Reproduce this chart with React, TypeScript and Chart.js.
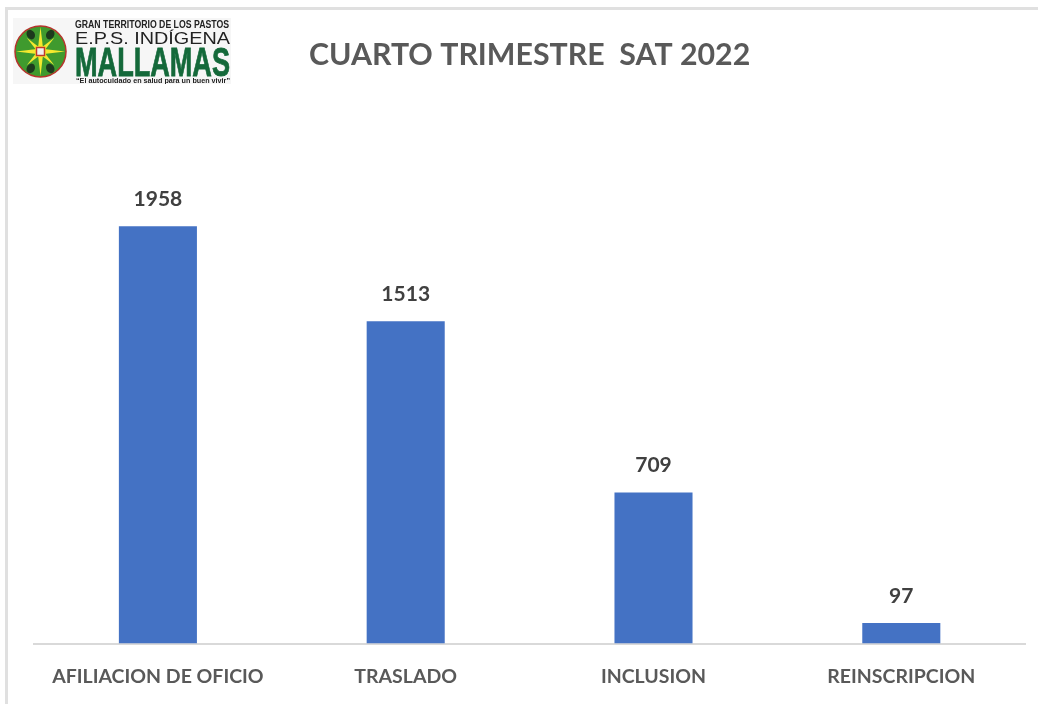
import React, { useEffect, useRef } from "react";
import { Chart, registerables } from "chart.js";

Chart.register(...registerables);

const categories = ["AFILIACION DE OFICIO", "TRASLADO", "INCLUSION", "REINSCRIPCION"];
const values = [1958, 1513, 709, 97];
const titleText = "CUARTO TRIMESTRE  SAT 2022";

const valueLabels = {
  id: "valueLabels",
  afterDatasetsDraw(chart: any) {
    const { ctx } = chart;
    const meta = chart.getDatasetMeta(0);
    ctx.save();
    ctx.font = "bold 21px Lato";
    ctx.fillStyle = "#404040";
    ctx.textAlign = "center";
    ctx.textBaseline = "middle";
    meta.data.forEach((bar: any, i: number) => {
      ctx.fillText(String(values[i]), bar.x, bar.y - 27);
    });
    ctx.restore();
  },
};

function Logo() {
  const rays = [0, 45, 90, 135, 180, 225, 270, 315];
  const figures = [30, 150, 210, 330];
  return (
    <svg
      width={218}
      height={66}
      viewBox="0 0 218 66"
      style={{ position: "absolute", left: 13, top: 18, filter: "blur(0.35px)" }}
    >
      <rect width={218} height={66} fill="#f6f6f6" />
      <circle cx={27.5} cy={33.5} r={25.5} fill="#3f9a2e" stroke="#b5342c" strokeWidth={1.5} />
      {figures.map((a) => (
        <ellipse
          key={a}
          cx={27.5}
          cy={14}
          rx={4}
          ry={5}
          fill="#1d3a1d"
          transform={`rotate(${a} 27.5 33.5)`}
        />
      ))}
      {rays.map((a) => (
        <polygon
          key={a}
          points={a % 90 === 0 ? "27.5,9 30,30 25,30" : "27.5,14 29.5,30 25.5,30"}
          fill="#f4e92e"
          transform={`rotate(${a} 27.5 33.5)`}
        />
      ))}
      <circle cx={27.5} cy={33.5} r={6} fill="#f4e92e" />
      <rect x={23.5} y={29.5} width={8} height={8} fill="#eee" stroke="#c0392b" strokeWidth={1.5} />
      <text x={62} y={10} fontFamily="'Liberation Sans Narrow', 'Liberation Sans'" fontWeight="bold" fontSize={10} fill="#222" textLength={154} lengthAdjust="spacingAndGlyphs">
        GRAN TERRITORIO DE LOS PASTOS
      </text>
      <text x={62} y={26} fontFamily="'Liberation Sans'" fontSize={16.5} fill="#222" textLength={155} lengthAdjust="spacingAndGlyphs">
        E.P.S. INDÍGENA
      </text>
      <text x={62} y={58} fontFamily="'Liberation Sans'" fontWeight="bold" fontSize={40} fill="#14693a" stroke="#14693a" strokeWidth={0.8} textLength={155} lengthAdjust="spacingAndGlyphs">
        MALLAMAS
      </text>
      <text x={63} y={65} fontFamily="'Liberation Sans'" fontWeight="bold" fontSize={6.5} fill="#222" textLength={154} lengthAdjust="spacingAndGlyphs">
        “El autocuidado en salud para un buen vivir”
      </text>
    </svg>
  );
}

export default function App() {
  const ref = useRef<HTMLCanvasElement>(null);
  useEffect(() => {
    const chart = new Chart(ref.current as HTMLCanvasElement, {
      type: "bar",
      data: {
        labels: categories,
        datasets: [
          {
            data: values,
            backgroundColor: "#4472c4",
            barPercentage: 0.315,
            categoryPercentage: 1,
          },
        ],
      },
      options: {
        responsive: false,
        animation: false,
        layout: { padding: { left: 34, right: 12.8, top: 37, bottom: -6 } },
        plugins: {
          legend: { display: false },
          tooltip: { enabled: false },
          title: {
            display: true,
            text: titleText,
            color: "#595959",
            font: { family: "Lato", size: 30.3, weight: "bold" },
            padding: { top: 0, bottom: 36 },
          },
        },
        scales: {
          x: {
            grid: { display: false, drawTicks: false },
            border: { color: "#d9d9d9", width: 2 },
            ticks: {
              color: "#595959",
              font: { family: "Lato", size: 19.5, weight: "bold" },
              padding: 21.5,
              maxRotation: 0,
            },
          },
          y: { display: false, min: 0, max: 2507 },
        },
      },
      plugins: [valueLabels],
    } as any);
    return () => chart.destroy();
  }, []);
  return (
    <div style={{ position: "fixed", left: 0, top: 0, width: 1038, height: 704, background: "#fff", overflow: "hidden" }}>
      <div style={{ position: "absolute", left: 5, top: 7, right: 0, height: 3, background: "#e0e0e0" }} />
      <div style={{ position: "absolute", left: 5, top: 7, bottom: 0, width: 3, background: "#e0e0e0" }} />
      <canvas ref={ref} width={1038} height={704} style={{ position: "absolute", left: 0, top: 0, display: "block" }} />
      <Logo />
    </div>
  );
}
